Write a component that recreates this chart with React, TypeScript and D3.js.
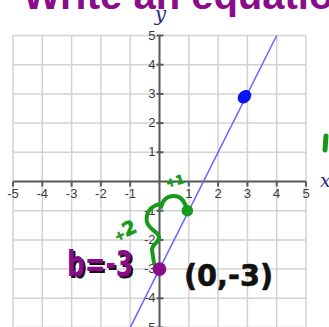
import React from "react";
import * as d3 from "d3";

// Axis ticks (0 is left unlabeled on both axes)
const xTicks = [-5, -4, -3, -2, -1, 1, 2, 3, 4, 5];
const yTicks = [5, 4, 3, 2, 1, -1, -2, -3, -4, -5];
const gridValues = [-5, -4, -3, -2, -1, 0, 1, 2, 3, 4, 5];

// The graphed line y = 2x - 3, given by its two end points inside the grid
const linePoints: [number, number][] = [
  [-1, -5],
  [4, 5],
];

// Marked points: the given point, the y-intercept, and the point one step along the slope
const pointGiven: [number, number] = [2.9, 2.9];
const pointIntercept: [number, number] = [0, -3];
const pointStep: [number, number] = [0.95, -1];

const W = 329;
const H = 327;

const PURPLE = "#8b0c8b";
const GREEN = "#17991a";
const BLUE_LINE = "#6a6aff";
const GRID = "#d2d2d2";
const AXIS = "#5a5a5a";

export default function App() {
  const x = d3.scaleLinear().domain([-5, 5]).range([13, 306]);
  const y = d3.scaleLinear().domain([-5, 5]).range([327.5, 35.5]);
  const line = d3
    .line<[number, number]>()
    .x((d) => x(d[0]))
    .y((d) => y(d[1]));

  const x0 = x(0);
  const y0 = y(0);

  return (
    <div style={{ position: "absolute", left: 0, top: 0 }}>
      <svg width={W} height={H} style={{ display: "block", background: "#fff" }}>
        {/* Heading, cut off at the top */}
        <text
          x={23}
          y={9}
          fill={PURPLE}
          fontFamily="Liberation Sans, Arial, sans-serif"
          fontWeight="bold"
          fontSize={40}
        >
          Write an equation
        </text>

        {/* Grid */}
        <g stroke={GRID} strokeWidth={1.5}>
          {gridValues.map((v) => (
            <line key={"gx" + v} x1={x(v)} x2={x(v)} y1={y(5)} y2={y(-5)} />
          ))}
          {gridValues.map((v) => (
            <line key={"gy" + v} x1={x(-5)} x2={x(5)} y1={y(v)} y2={y(v)} />
          ))}
        </g>

        {/* Axes */}
        <g stroke={AXIS} strokeWidth={2}>
          <line x1={x(-5)} x2={x(5)} y1={y0} y2={y0} />
          <line x1={x0} x2={x0} y1={y(5)} y2={y(-5)} />
          {xTicks.map((v) => (
            <line key={"tx" + v} x1={x(v)} x2={x(v)} y1={y0} y2={y0 + 5} />
          ))}
          {yTicks.map((v) => (
            <line key={"ty" + v} x1={x0 - 3} x2={x0 + 4} y1={y(v)} y2={y(v)} />
          ))}
        </g>

        {/* Tick labels */}
        <g fill="#3c3c3c" fontFamily="Liberation Sans, Arial, sans-serif" fontSize={13}>
          {xTicks.map((v) => (
            <text key={"lx" + v} x={x(v)} y={y0 + 16} textAnchor="middle">
              {String(v)}
            </text>
          ))}
          {yTicks.map((v) => (
            <text key={"ly" + v} x={x0 - 4} y={y(v) + 4} textAnchor="end">
              {String(v)}
            </text>
          ))}
        </g>

        {/* Axis names */}
        <text
          x={x0 + 1}
          y={21}
          textAnchor="middle"
          fill="#2b2b86"
          fontFamily="DejaVu Serif, serif"
          fontStyle="italic"
          fontSize={20}
        >
          y
        </text>
        <text
          x={320}
          y={187}
          fill="#2b2b86"
          fontFamily="DejaVu Serif, serif"
          fontStyle="italic"
          fontSize={19}
        >
          x
        </text>

        {/* The line */}
        <path d={line(linePoints) || ""} fill="none" stroke={BLUE_LINE} strokeWidth={1.6} />

        {/* Rise-over-run annotation */}
        <g fill="none" stroke={GREEN} strokeWidth={4} strokeLinecap="round" strokeLinejoin="round">
          {/* run: arc from the intercept column over to the next point */}
          <path d={`M161,207 C163,199 168,196 174,196 C181,196 185,201 ${x(pointStep[0])},${y(pointStep[1])}`} />
          {/* rise: brace from the intercept up to the step point */}
          <path d="M160,204 C151,206 145,213 147,222 C149,230 158,231 159,237 C160,243 152,243 152,250 L154,263" />
          {/* stray stroke at the right margin */}
          <path d="M326,136 L325,150" strokeWidth={5} />
        </g>
        <g fill={GREEN} stroke={GREEN} strokeWidth={0.8} fontFamily="DejaVu Sans, sans-serif" fontWeight="bold">
          <text x={166} y={186} fontSize={12} transform="rotate(-15 172 182)">
            +1
          </text>
          <text x={112} y={237} fontSize={19} transform="rotate(-25 124 228)">
            <tspan fontSize={12}>+</tspan>2
          </text>
        </g>

        {/* Points */}
        <ellipse
          cx={x(pointGiven[0])}
          cy={y(pointGiven[1])}
          rx={7.5}
          ry={6}
          transform={`rotate(-45 ${x(pointGiven[0])} ${y(pointGiven[1])})`}
          fill="#0a14f0"
        />
        <circle cx={x(pointStep[0])} cy={y(pointStep[1])} r={5.8} fill={GREEN} />
        <circle cx={x(pointIntercept[0])} cy={y(pointIntercept[1])} r={6.8} fill={PURPLE} />

        {/* Intercept labels */}
        <g fontFamily="DejaVu Sans, sans-serif" fontWeight="bold" fontSize={36}>
          <text x={69} y={278} textLength={66} lengthAdjust="spacingAndGlyphs" fill="#111">
            b=-3
          </text>
          <text x={67} y={276} textLength={66} lengthAdjust="spacingAndGlyphs" fill={PURPLE}>
            b=-3
          </text>
        </g>
        <text
          x={184}
          y={286}
          textLength={89}
          lengthAdjust="spacingAndGlyphs"
          fontFamily="DejaVu Sans, sans-serif"
          fontWeight="bold"
          fontSize={31}
          fill="#111"
          stroke="#111"
          strokeWidth={0.6}
        >
          (0,-3)
        </text>
      </svg>
    </div>
  );
}
